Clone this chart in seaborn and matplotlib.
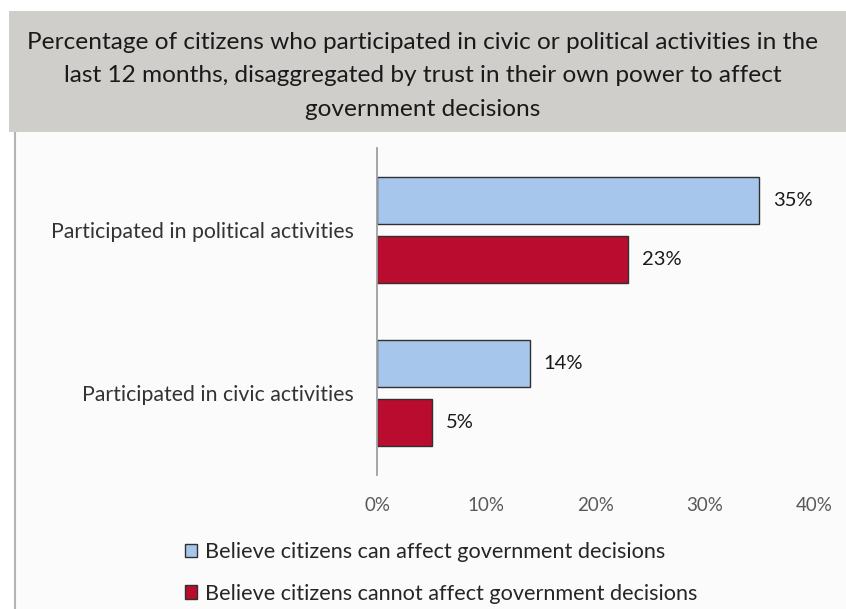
import matplotlib
matplotlib.use("Agg")
import matplotlib.pyplot as plt
from matplotlib.patches import Rectangle
from matplotlib.ticker import FuncFormatter
import pandas as pd
import seaborn as sns

categories = ["Participated in political activities", "Participated in civic activities"]
groups = ["Believe citizens can affect government decisions",
          "Believe citizens cannot affect government decisions"]
can_affect = [35, 14]
cannot_affect = [23, 5]
x_ticks = [0, 10, 20, 30, 40]
title = ("Percentage of citizens who participated in civic or political activities in the\n"
         "last 12 months, disaggregated by trust in their own power to affect\n"
         "government decisions")

colors = ["#a7c6ec", "#b90c2e"]

df = pd.DataFrame({
    "category": categories * 2,
    "group": [groups[0]] * len(categories) + [groups[1]] * len(categories),
    "value": can_affect + cannot_affect,
})

sns.set_theme(style="white")
plt.rcParams["font.family"] = ["Lato", "DejaVu Sans"]

W, H = 846, 609
fig = plt.figure(figsize=(W / 100, H / 100), dpi=100)
fig.patch.set_facecolor("white")

# panel background with left border and grey title banner
fig.add_artist(Rectangle((14 / W, 0), 1 - 14 / W, 1 - 132 / H, transform=fig.transFigure,
                         facecolor="#fbfbfb", edgecolor="none", zorder=0))
fig.add_artist(plt.Line2D([14.5 / W, 14.5 / W], [0, 1 - 132 / H], transform=fig.transFigure,
                          color="#b4b4b4", lw=1.5, zorder=1))
fig.add_artist(Rectangle((9 / W, 1 - 132 / H), 1 - 9 / W, 121 / H, transform=fig.transFigure,
                         facecolor="#cfcecb", edgecolor="none", zorder=1))
fig.text(423 / W, 1 - 76 / H, title, ha="center", va="center", fontsize=17.6,
         color="#1a1a1a", linespacing=1.72, zorder=2)

ax = fig.add_axes([377 / W, 1 - 475 / H, (814 - 377) / W, (475 - 148) / H])
ax.set_facecolor("none")

sns.barplot(data=df, y="category", x="value", hue="group", order=categories,
            hue_order=groups, palette=colors, saturation=1, orient="h",
            width=0.724, gap=0.204, edgecolor="#303030", linewidth=1.0, ax=ax,
            legend=True)

for container in ax.containers:
    ax.bar_label(container, labels=[f"{v:.0f}%" for v in container.datavalues],
                 padding=10, fontsize=14.5, color="#1a1a1a")

ax.set_xlim(0, 40)
ax.set_ylim(1.505, -0.5)
ax.set_xticks(x_ticks)
ax.xaxis.set_major_formatter(FuncFormatter(lambda v, p: f"{v:.0f}%"))
ax.tick_params(axis="x", length=0, pad=16, labelsize=13.5, labelcolor="#595959")
ax.tick_params(axis="y", length=0, pad=17, labelsize=15.3, labelcolor="#333333")
ax.set_xlabel("")
ax.set_ylabel("")
for s in ["top", "right", "bottom"]:
    ax.spines[s].set_visible(False)
ax.spines["left"].set_color("#a0a0a0")
ax.spines["left"].set_linewidth(1.3)

handles, labels = ax.get_legend_handles_labels()
ax.get_legend().remove()
fig.legend(handles, labels, loc="upper left", bbox_to_anchor=(185 / W, 1 - 542 / H),
           frameon=False, fontsize=15.6, handlelength=0.55, handleheight=0.55,
           handletextpad=0.35, labelspacing=1.0, borderpad=0, borderaxespad=0)

fig.savefig("out.png", dpi=100, facecolor=fig.get_facecolor())
